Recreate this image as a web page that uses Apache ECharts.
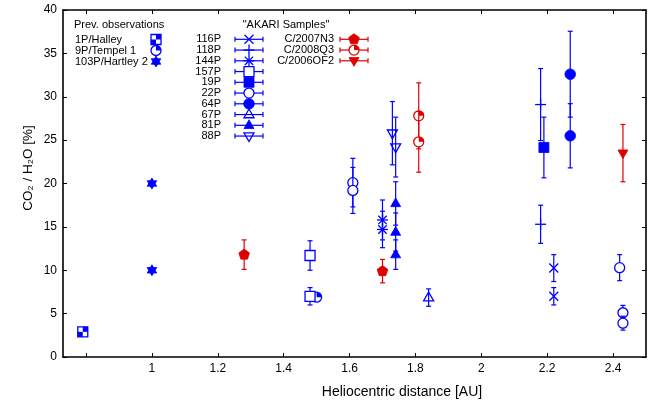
<!DOCTYPE html>
<html><head><meta charset="utf-8">
<script src="https://cdn.jsdelivr.net/npm/echarts@6/dist/echarts.min.js"></script>
<style>html,body{margin:0;padding:0;background:#fff}#c{width:663px;height:403px}</style>
</head><body><div id="c"></div>
<script>
// ---------- data (heliocentric distance [AU], CO2/H2O [%], error [%]) ----------
const xTicks = [0.8, 1.0, 1.2, 1.4, 1.6, 1.8, 2.0, 2.2, 2.4];
const xTickLabels = [1.0, 1.2, 1.4, 1.6, 1.8, 2.0, 2.2, 2.4];
const yTicks = [0, 5, 10, 15, 20, 25, 30, 35, 40];

// previous observations
const halleyR = [0.79];          const halleyCO2 = [2.9];
const tempelR = [1.50];          const tempelCO2 = [6.9];
const hartleyR = [1.0, 1.0];     const hartleyCO2 = [20.0, 10.0];

// AKARI samples
const p116R = [2.22, 2.22];      const p116CO2 = [10.25, 7.0];     const p116Err = [1.55, 1.0];
const p118R = [2.18, 2.18];      const p118CO2 = [29.1, 15.3];     const p118Err = [4.15, 2.2];
const p144R = [1.70, 1.70];      const p144CO2 = [15.8, 14.7];     const p144Err = [2.3, 2.1];
const p157R = [1.48, 1.48];      const p157CO2 = [11.7, 7.0];      const p157Err = [1.7, 1.0];
const p19R  = [2.19];            const p19CO2  = [24.15];          const p19Err  = [3.5];
const p22R  = [1.61, 1.61, 2.42, 2.43, 2.43];
const p22CO2 = [20.1, 19.2, 10.3, 5.1, 3.9];
const p22Err = [2.8, 2.65, 1.5, 0.85, 0.8];
const p64R  = [2.27, 2.27];      const p64CO2  = [32.6, 25.5];     const p64Err  = [4.95, 3.7];
const p67R  = [1.84];            const p67CO2  = [6.85];           const p67Err  = [1.0];
const p81R  = [1.74, 1.74, 1.74];const p81CO2  = [17.7, 14.4, 11.8]; const p81Err = [2.5, 2.2, 1.7];
const p88R  = [1.73, 1.74];      const p88CO2  = [25.8, 24.2];     const p88Err  = [3.65, 3.45];
const c07R  = [1.28, 1.70];      const c07CO2  = [11.8, 9.9];      const c07Err  = [1.7, 1.35];
const c08R  = [1.81, 1.81];      const c08CO2  = [27.8, 24.8];     const c08Err  = [3.8, 3.5];
const c06R  = [2.43];            const c06CO2  = [23.5];           const c06Err  = [3.3];

// ---------- styling ----------
const BLUE = '#0000ff', RED = '#dd0000';
const FONT = '"Liberation Sans", Arial, Helvetica, sans-serif';

function seg(x1, y1, x2, y2, c, w) {
  return {type: 'line', shape: {x1, y1, x2, y2}, style: {stroke: c, lineWidth: w || 1.2}};
}
function poly(points, style) { return {type: 'polygon', shape: {points}, style}; }

function marker(kind, cx, cy, c) {
  const r = 5, lw = 1.3;
  const openS = {fill: '#fff', stroke: c, lineWidth: lw};
  const holS = {fill: 'none', stroke: c, lineWidth: lw};
  const fillS = {fill: c, stroke: c, lineWidth: 0.8};
  const up = [[cx, cy - 5.5], [cx + 5, cy + 3.2], [cx - 5, cy + 3.2]];
  const dn = [[cx, cy + 5.5], [cx + 5, cy - 3.2], [cx - 5, cy - 3.2]];
  switch (kind) {
    case 'x': return [seg(cx - 4.5, cy - 4.5, cx + 4.5, cy + 4.5, c, lw), seg(cx - 4.5, cy + 4.5, cx + 4.5, cy - 4.5, c, lw)];
    case 'plus': return [seg(cx - 5.5, cy, cx + 5.5, cy, c, lw), seg(cx, cy - 5.5, cx, cy + 5.5, c, lw)];
    case 'star': return [seg(cx - 4.2, cy - 4.2, cx + 4.2, cy + 4.2, c, lw), seg(cx - 4.2, cy + 4.2, cx + 4.2, cy - 4.2, c, lw),
                         seg(cx - 5.5, cy, cx + 5.5, cy, c, lw), seg(cx, cy - 5.5, cx, cy + 5.5, c, lw)];
    case 'sqOpen': return [{type: 'rect', shape: {x: cx - r, y: cy - r, width: 2 * r, height: 2 * r}, style: openS}];
    case 'sqFill': return [{type: 'rect', shape: {x: cx - r, y: cy - r, width: 2 * r, height: 2 * r}, style: fillS}];
    case 'sqHalf': return [
      {type: 'rect', shape: {x: cx - r, y: cy - r, width: 2 * r, height: 2 * r}, style: openS},
      {type: 'rect', shape: {x: cx, y: cy - r, width: r, height: r}, style: {fill: c}},
      {type: 'rect', shape: {x: cx - r, y: cy, width: r, height: r}, style: {fill: c}}];
    case 'circOpen': return [{type: 'circle', shape: {cx, cy, r}, style: openS}];
    case 'circFill': return [{type: 'circle', shape: {cx, cy, r: 5.3}, style: fillS}];
    case 'circQuarter': return [
      {type: 'circle', shape: {cx, cy, r}, style: openS},
      {type: 'sector', shape: {cx, cy, r0: 0, r: r, startAngle: -Math.PI / 2, endAngle: 0, clockwise: true}, style: {fill: c}}];
    case 'triOpen': return [poly(up, holS)];
    case 'triFill': return [poly(up, fillS)];
    case 'triDownOpen': return [poly(dn, holS)];
    case 'triDownFill': return [poly(dn, fillS)];
    case 'pentFill': {
      const pts = [];
      for (let k = 0; k < 5; k++) { const a = -Math.PI / 2 + k * 2 * Math.PI / 5; pts.push([cx + 5.6 * Math.cos(a), cy + 5.6 * Math.sin(a)]); }
      return [poly(pts, fillS)];
    }
    case 'hexStar': {
      const t1 = [], t2 = [];
      for (let k = 0; k < 3; k++) {
        const a1 = -Math.PI / 2 + k * 2 * Math.PI / 3, a2 = Math.PI / 2 + k * 2 * Math.PI / 3;
        t1.push([cx + 5.5 * Math.cos(a1), cy + 5.5 * Math.sin(a1)]);
        t2.push([cx + 5.5 * Math.cos(a2), cy + 5.5 * Math.sin(a2)]);
      }
      return [poly(t1, fillS), poly(t2, fillS)];
    }
  }
  return [];
}

function makeSeries(name, xs, ys, errs, kind, color) {
  const data = xs.map((x, i) => [x, ys[i], errs ? errs[i] : 0]);
  return {
    type: 'custom', name, data,
    xAxisIndex: 0, yAxisIndex: 0,
    encode: {x: 0, y: 1},
    renderItem(params, api) {
      const x = api.value(0), y = api.value(1), e = api.value(2);
      const p = api.coord([x, y]);
      const ch = [];
      if (e > 0) {
        const t = api.coord([x, y + e])[1], b = api.coord([x, y - e])[1];
        ch.push(seg(p[0], t, p[0], b, color), seg(p[0] - 2.5, t, p[0] + 2.5, t, color), seg(p[0] - 2.5, b, p[0] + 2.5, b, color));
      }
      return {type: 'group', children: ch.concat(marker(kind, p[0], p[1], color))};
    }
  };
}

const series = [
  makeSeries('1P/Halley', halleyR, halleyCO2, null, 'sqHalf', BLUE),
  makeSeries('9P/Tempel 1', tempelR, tempelCO2, null, 'circQuarter', BLUE),
  makeSeries('103P/Hartley 2', hartleyR, hartleyCO2, null, 'hexStar', BLUE),
  makeSeries('157P', p157R, p157CO2, p157Err, 'sqOpen', BLUE),
  makeSeries('116P', p116R, p116CO2, p116Err, 'x', BLUE),
  makeSeries('118P', p118R, p118CO2, p118Err, 'plus', BLUE),
  makeSeries('144P', p144R, p144CO2, p144Err, 'star', BLUE),
  makeSeries('19P', p19R, p19CO2, p19Err, 'sqFill', BLUE),
  makeSeries('22P', p22R, p22CO2, p22Err, 'circOpen', BLUE),
  makeSeries('64P', p64R, p64CO2, p64Err, 'circFill', BLUE),
  makeSeries('67P', p67R, p67CO2, p67Err, 'triOpen', BLUE),
  makeSeries('81P', p81R, p81CO2, p81Err, 'triFill', BLUE),
  makeSeries('88P', p88R, p88CO2, p88Err, 'triDownOpen', BLUE),
  makeSeries('C/2007N3', c07R, c07CO2, c07Err, 'pentFill', RED),
  makeSeries('C/2008Q3', c08R, c08CO2, c08Err, 'circQuarter', RED),
  makeSeries('C/2006OF2', c06R, c06CO2, c06Err, 'triDownFill', RED)
];

// ---------- legend (drawn as graphics) ----------
function txt(text, x, y, align, size) {
  return {type: 'text', x, y, style: {text, fill: '#000', font: (size || 11) + 'px ' + FONT,
    align, textAlign: align, verticalAlign: 'middle', textVerticalAlign: 'middle'}};
}
const legend = [];
legend.push(txt('Prev. observations', 74, 25, 'left'));
[['1P/Halley', 'sqHalf'], ['9P/Tempel 1', 'circQuarter'], ['103P/Hartley 2', 'hexStar']].forEach((d, i) => {
  const y = 39.5 + i * 11;
  legend.push(txt(d[0], 75, y, 'left'));
  legend.push(...marker(d[1], 156, y, BLUE));
});
legend.push(txt('"AKARI Samples"', 286, 25, 'center'));
function barIcon(cx, y, kind, c) {
  return [seg(cx - 14, y, cx + 14, y, c), seg(cx - 14, y - 2.5, cx - 14, y + 2.5, c), seg(cx + 14, y - 2.5, cx + 14, y + 2.5, c)]
    .concat(marker(kind, cx, y, c));
}
[['116P', 'x'], ['118P', 'plus'], ['144P', 'star'], ['157P', 'sqOpen'], ['19P', 'sqFill'], ['22P', 'circOpen'],
 ['64P', 'circFill'], ['67P', 'triOpen'], ['81P', 'triFill'], ['88P', 'triDownOpen']].forEach((d, i) => {
  const y = 39.3 + i * 10.75;
  legend.push(txt(d[0], 221, y, 'right'));
  legend.push(...barIcon(249, y, d[1], BLUE));
});
[['C/2007N3', 'pentFill'], ['C/2008Q3', 'circQuarter'], ['C/2006OF2', 'triDownFill']].forEach((d, i) => {
  const y = 39.3 + i * 10.75;
  legend.push(txt(d[0], 334, y, 'right'));
  legend.push(...barIcon(354, y, d[1], RED));
});
legend.push(txt('Heliocentric distance [AU]', 402, 392, 'center', 14));
const ylab = txt('CO₂ / H₂O [%]', 28, 168, 'center', 13.5);
ylab.rotation = Math.PI / 2;
legend.push(ylab);

// ---------- chart ----------
const chart = echarts.init(document.getElementById('c'), null, {renderer: 'canvas'});
const axisLineStyle = {color: '#000', width: 1.6};
const tickStyle = {color: '#000', width: 1};
const xFmt = v => String(+v.toFixed(1)).replace(/\.0$/, '');
chart.setOption({
  animation: false,
  backgroundColor: '#fff',
  grid: {left: 63, right: 17, top: 10, bottom: 46, containLabel: false},
  xAxis: [
    {type: 'value', min: 0.73, max: 2.5, position: 'bottom',
     axisLine: {show: true, onZero: false, lineStyle: axisLineStyle},
     axisTick: {show: true, inside: true, length: 4, customValues: xTicks, lineStyle: tickStyle},
     axisLabel: {show: true, customValues: xTickLabels, formatter: xFmt, color: '#000', fontSize: 12, fontFamily: FONT, margin: 6},
     splitLine: {show: false}},
    {type: 'value', min: 0.73, max: 2.5, position: 'top',
     axisLine: {show: true, onZero: false, lineStyle: axisLineStyle},
     axisTick: {show: true, inside: true, length: 4, customValues: xTicks, lineStyle: tickStyle},
     axisLabel: {show: false}, splitLine: {show: false}}
  ],
  yAxis: [
    {type: 'value', min: 0, max: 40, interval: 5, position: 'left',
     axisLine: {show: true, onZero: false, lineStyle: axisLineStyle},
     axisTick: {show: true, inside: true, length: 4, customValues: yTicks, lineStyle: tickStyle},
     axisLabel: {color: '#000', fontSize: 12, fontFamily: FONT, margin: 6},
     splitLine: {show: false}},
    {type: 'value', min: 0, max: 40, interval: 5, position: 'right',
     axisLine: {show: true, onZero: false, lineStyle: axisLineStyle},
     axisTick: {show: true, inside: true, length: 4, customValues: yTicks, lineStyle: tickStyle},
     axisLabel: {show: false}, splitLine: {show: false}}
  ],
  series,
  graphic: {elements: legend}
});
</script></body></html>
